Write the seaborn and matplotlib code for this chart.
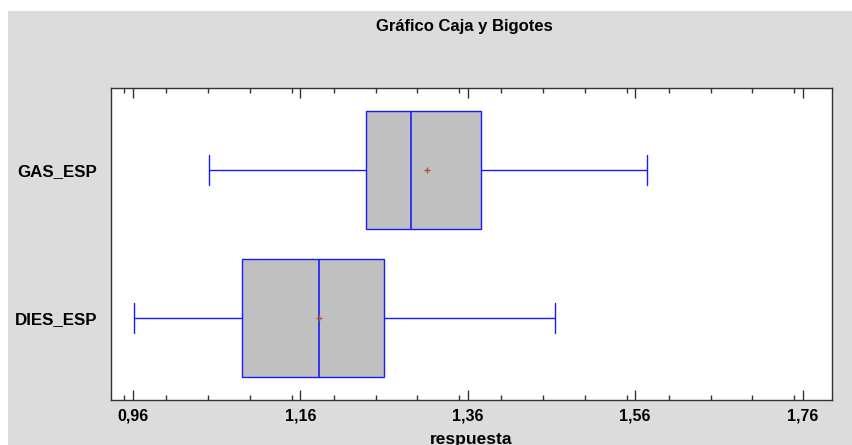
import numpy as np
import pandas as pd
import matplotlib
matplotlib.use("Agg")
import matplotlib.pyplot as plt
from matplotlib.patches import Rectangle
from matplotlib.ticker import MultipleLocator, FixedLocator
import seaborn as sns

# Values (each sample reproduces the box statistics shown)
gas_esp = [1.051, 1.200, 1.238, 1.270, 1.292, 1.340, 1.3755, 1.4585, 1.574]
dies_esp = [0.961, 1.050, 1.090, 1.130, 1.182, 1.220, 1.260, 1.281, 1.464]
categories = ["GAS_ESP", "DIES_ESP"]
xticks = [0.96, 1.16, 1.36, 1.56, 1.76]
xtick_labels = ["0,96", "1,16", "1,36", "1,56", "1,76"]

df = pd.DataFrame({
    "grupo": [categories[0]] * len(gas_esp) + [categories[1]] * len(dies_esp),
    "respuesta": gas_esp + dies_esp,
})

sns.set_theme(style="white")
plt.rcParams["font.family"] = ["Liberation Sans", "DejaVu Sans"]
plt.rcParams["text.color"] = "black"
plt.rcParams["axes.labelcolor"] = "black"
plt.rcParams["xtick.labelcolor"] = "black"
plt.rcParams["ytick.labelcolor"] = "black"

fig = plt.figure(figsize=(8.53, 4.45), dpi=100)
fig.patch.set_facecolor("white")
fig.patches.append(Rectangle((8 / 853, 0), 1, 1 - 11 / 445, transform=fig.transFigure,
                             facecolor="#dcdcdc", edgecolor="none", zorder=-10))

ax = fig.add_axes([111 / 853, 1 - 400 / 445, (832 - 111) / 853, (400 - 88) / 445])
ax.set_facecolor("white")

blue = "#1a1aff"
sns.boxplot(data=df, x="respuesta", y="grupo", order=categories, orient="h", ax=ax,
            width=0.8, whis=1.5, showmeans=True, showfliers=False,
            boxprops=dict(facecolor="#c0c0c0", edgecolor=blue, linewidth=1.0),
            medianprops=dict(color=blue, linewidth=1.2),
            whiskerprops=dict(color=blue, linewidth=1.0),
            capprops=dict(color=blue, linewidth=1.0),
            meanprops=dict(marker="+", markeredgecolor="#b0502a", markerfacecolor="#b0502a",
                           markersize=5, markeredgewidth=1.0),
            linecolor=blue)

# cap widths: shorten caps to match the reference
for line in ax.lines:
    xd, yd = line.get_xdata(), line.get_ydata()
    if len(xd) == 2 and np.isclose(xd[0], xd[1]) and not np.isclose(yd[0], yd[1]):
        c = (yd[0] + yd[1]) / 2
        h = abs(yd[1] - yd[0])
        if h < 0.7:
            line.set_ydata([c - 0.1, c + 0.1])

ax.set_xlim(0.934, 1.795)
ax.set_ylim(1.554, -0.554)
ax.xaxis.set_major_locator(FixedLocator(xticks))
ax.set_xticklabels(xtick_labels, fontweight="bold", fontsize=11.5)
ax.xaxis.set_minor_locator(MultipleLocator(0.05))
ax.tick_params(axis="x", which="major", direction="in", length=7, width=1, color="#333333",
               top=True, bottom=True, pad=6)
ax.tick_params(axis="x", which="minor", direction="in", length=3.5, width=1, color="#333333",
               top=True, bottom=True)
ax.tick_params(axis="y", which="both", length=0, pad=10)
for lbl in ax.get_yticklabels():
    lbl.set_fontweight("bold")
    lbl.set_fontsize(12.2)
ax.set_xlabel("respuesta", fontweight="bold", fontsize=12.5, labelpad=6)
ax.set_ylabel("")
for s in ax.spines.values():
    s.set_color("#333333")
    s.set_linewidth(1.0)

fig.text(464 / 853, 1 - 27 / 445, "Gráfico Caja y Bigotes", ha="center", va="center",
         fontweight="bold", fontsize=12)

fig.savefig("out.png", dpi=100, facecolor=fig.get_facecolor())
